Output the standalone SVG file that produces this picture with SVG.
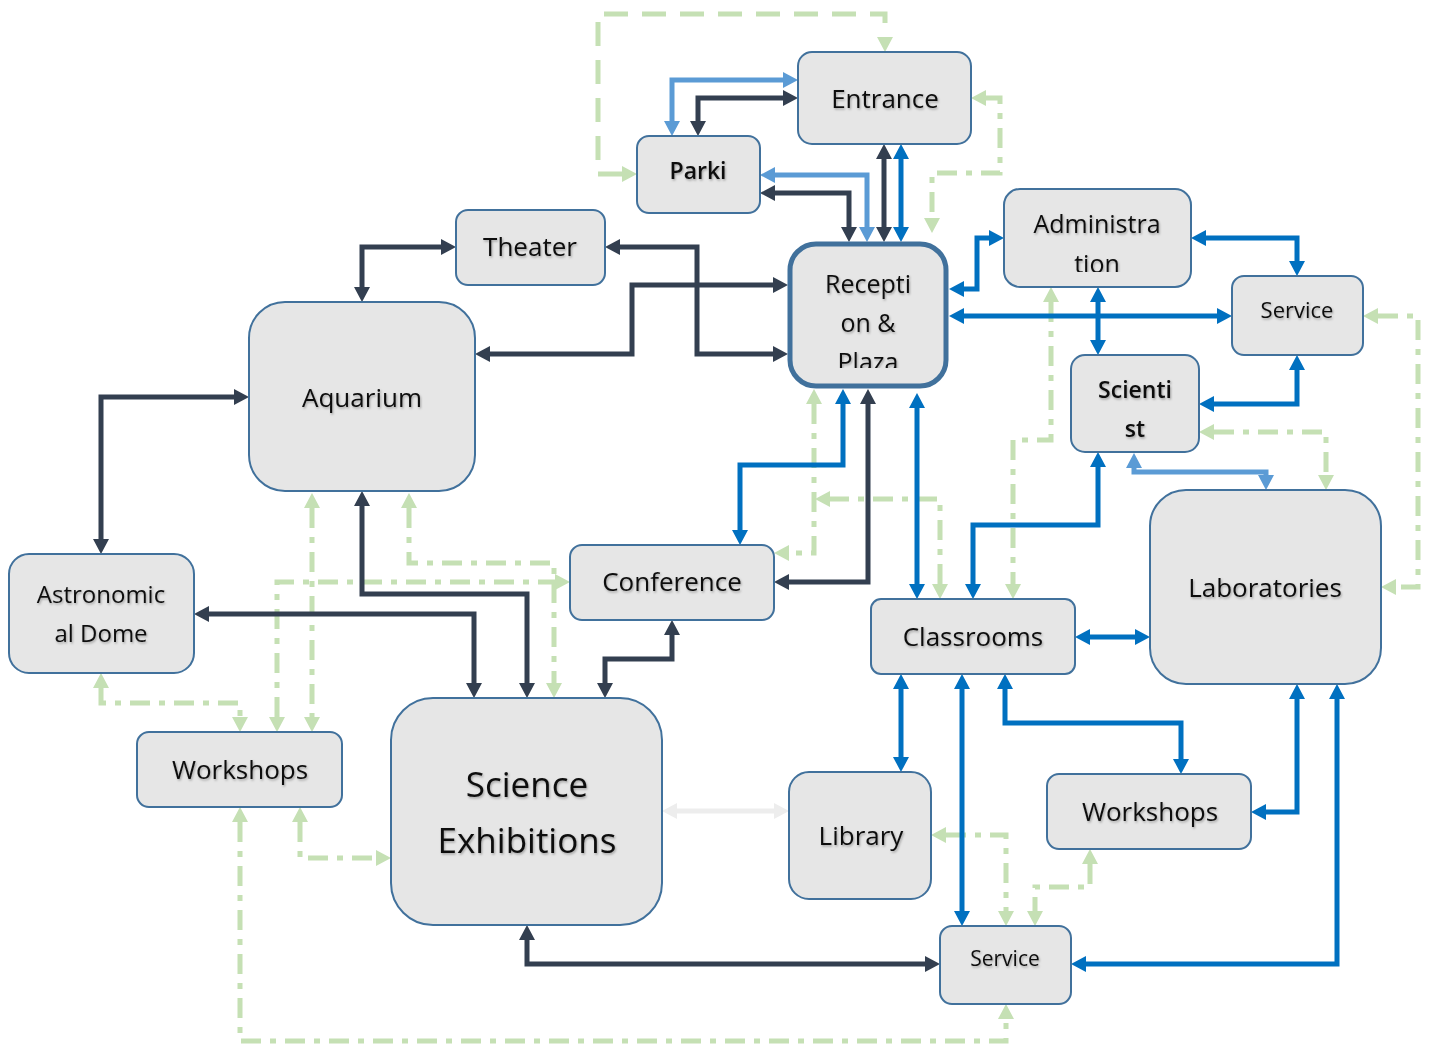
<svg xmlns="http://www.w3.org/2000/svg" width="1432" height="1051" viewBox="0 0 1432 1051">
<style>
.n{fill:#E6E6E6;stroke:#41719C;stroke-width:2}
.nb{fill:#E6E6E6;stroke:#41719C;stroke-width:5}
.t{font-family:"Open Sans","Noto Sans","DejaVu Sans",sans-serif;font-size:26px;fill:#111;text-anchor:middle;filter:url(#ts)}
.b{font-weight:600}
.c{fill:none;stroke-width:5;stroke-linejoin:miter}
.dk{stroke:#333F50;marker-start:url(#mdk);marker-end:url(#mdk)}
.bl{stroke:#0070C0;marker-start:url(#mbl);marker-end:url(#mbl)}
.lb{stroke:#5B9BD5;marker-start:url(#mlb);marker-end:url(#mlb)}
.gy{stroke:#EDEDED;marker-start:url(#mgy);marker-end:url(#mgy)}
.gr{stroke:#C5E0B4;stroke-dasharray:20 9 6 9;marker-start:url(#mgr);marker-end:url(#mgr)}
.gd{stroke:#C5E0B4;stroke-dasharray:24 14;marker-start:url(#mgr);marker-end:url(#mgr)}
</style>
<defs>
<filter id="ts" x="-10%" y="-20%" width="120%" height="150%"><feDropShadow dx="1" dy="1.5" stdDeviation="0.8" flood-color="#000" flood-opacity="0.3"/></filter>
<marker id="mdk" viewBox="0 0 15 16" refX="0" refY="8" markerWidth="15" markerHeight="16" markerUnits="userSpaceOnUse" orient="auto-start-reverse"><path d="M0,0 L15,8 L0,16 z" fill="#333F50"/></marker>
<marker id="mbl" viewBox="0 0 15 16" refX="0" refY="8" markerWidth="15" markerHeight="16" markerUnits="userSpaceOnUse" orient="auto-start-reverse"><path d="M0,0 L15,8 L0,16 z" fill="#0070C0"/></marker>
<marker id="mlb" viewBox="0 0 15 16" refX="0" refY="8" markerWidth="15" markerHeight="16" markerUnits="userSpaceOnUse" orient="auto-start-reverse"><path d="M0,0 L15,8 L0,16 z" fill="#5B9BD5"/></marker>
<marker id="mgy" viewBox="0 0 15 16" refX="0" refY="8" markerWidth="15" markerHeight="16" markerUnits="userSpaceOnUse" orient="auto-start-reverse"><path d="M0,0 L15,8 L0,16 z" fill="#EDEDED"/></marker>
<marker id="mgr" viewBox="0 0 15 16" refX="0" refY="8" markerWidth="15" markerHeight="16" markerUnits="userSpaceOnUse" orient="auto-start-reverse"><path d="M0,0 L15,8 L0,16 z" fill="#C5E0B4"/></marker>
<clipPath id="cr"><rect x="790" y="244" width="156" height="124"/></clipPath>
<clipPath id="ca"><rect x="1004" y="189" width="187" height="83"/></clipPath>
</defs>
<g id="connectors">
<path class="c gd" d="M622,174 H598 V14 H885 V37"/>
<path class="c gr" d="M986,98 H1000 V173 H932 V218"/>
<path class="c gr" d="M312,508 V717"/>
<path class="c gr" d="M409,508 V563 H554 V683"/>
<path class="c gr" d="M277,717 V582 H555"/>
<path class="c gr" d="M101,688 V703 H240 V717"/>
<path class="c gr" d="M240,822 V1041 H1006 V1019"/>
<path class="c gr" d="M300,822 V858 H376"/>
<path class="c gr" d="M1214,432 H1326 V475"/>
<path class="c gr" d="M1051,302 V440 H1013 V584"/>
<path class="c gr" d="M1378,316 H1418 V587 H1396"/>
<path class="c gr" d="M814,404 V553 H789"/>
<path class="c gr" d="M940,584 V499 H830"/>
<path class="c gr" d="M946,835 H1006 V911"/>
<path class="c gr" d="M1090,864 V887 H1035 V911"/>
<path class="c gy" d="M677,811 H774"/>
<path class="c lb" d="M672,121 V80 H783"/>
<path class="c dk" d="M698,121 V98 H783"/>
<path class="c lb" d="M775,175 H867 V227"/>
<path class="c dk" d="M775,193 H849 V227"/>
<path class="c dk" d="M884,159 V227"/>
<path class="c bl" d="M901,159 V227"/>
<path class="c dk" d="M362,287 V247 H441"/>
<path class="c dk" d="M620,247 H697 V354 H773"/>
<path class="c dk" d="M490,354 H632 V285 H773"/>
<path class="c dk" d="M234,397 H101 V539"/>
<path class="c dk" d="M362,506 V594 H527 V683"/>
<path class="c dk" d="M209,614 H474 V683"/>
<path class="c dk" d="M605,683 V659 H672 V635"/>
<path class="c dk" d="M527,940 V964 H925"/>
<path class="c bl" d="M1337,699 V964 H1086"/>
<path class="c bl" d="M964,289 H977 V238 H989"/>
<path class="c bl" d="M964,316 H1217"/>
<path class="c bl" d="M1206,238 H1297 V261"/>
<path class="c bl" d="M1098,302 V340"/>
<path class="c bl" d="M1214,404 H1297 V370"/>
<path class="c lb" d="M1134,468 V472 H1266 V475"/>
<path class="c bl" d="M973,584 V525 H1098 V467"/>
<path class="c bl" d="M843,404 V465 H740 V530"/>
<path class="c dk" d="M868,404 V582 H789"/>
<path class="c bl" d="M917,408 V584"/>
<path class="c bl" d="M1090,637 H1135"/>
<path class="c bl" d="M901,689 V757"/>
<path class="c bl" d="M962,689 V911"/>
<path class="c bl" d="M1005,689 V723 H1181 V759"/>
<path class="c bl" d="M1297,699 V812 H1266"/>
</g>
<g id="entrance"><rect class="n" x="798" y="52" width="173" height="92" rx="14"/><text class="t" x="885" y="108">Entrance</text></g>
<g id="parking"><rect class="n" x="637" y="136" width="123" height="77" rx="12"/><text class="t b" x="698" y="179" style="font-size:23px">Parki</text></g>
<g id="theater"><rect class="n" x="456" y="210" width="149" height="75" rx="12"/><text class="t" x="530" y="256">Theater</text></g>
<g id="reception"><rect class="nb" x="790" y="244" width="156" height="142" rx="26"/><g clip-path="url(#cr)"><text class="t" x="868" y="293" style="font-size:25px">Recepti</text><text class="t" x="868" y="332" style="font-size:25px">on &amp;</text><text class="t" x="868" y="371" style="font-size:25px">Plaza</text></g></g>
<g id="administration"><rect class="n" x="1004" y="189" width="187" height="98" rx="16"/><g clip-path="url(#ca)"><text class="t" x="1097" y="233" style="font-size:25px">Administra</text><text class="t" x="1097" y="273" style="font-size:25px">tion</text></g></g>
<g id="service-top"><rect class="n" x="1232" y="276" width="131" height="79" rx="12"/><text class="t" x="1297" y="318" style="font-size:22px">Service</text></g>
<g id="scientist"><rect class="n" x="1071" y="355" width="128" height="97" rx="14"/><text class="t b" x="1135" y="398" style="font-size:23px">Scienti</text><text class="t b" x="1135" y="437" style="font-size:23px">st</text></g>
<g id="aquarium"><rect class="n" x="249" y="302" width="226" height="189" rx="36"/><text class="t" x="362" y="407">Aquarium</text></g>
<g id="astronomical-dome"><rect class="n" x="9" y="554" width="185" height="119" rx="20"/><text class="t" x="101" y="603" style="font-size:24px">Astronomic</text><text class="t" x="101" y="642" style="font-size:24px">al Dome</text></g>
<g id="conference"><rect class="n" x="570" y="545" width="204" height="75" rx="12"/><text class="t" x="672" y="591">Conference</text></g>
<g id="classrooms"><rect class="n" x="871" y="599" width="204" height="75" rx="10"/><text class="t" x="973" y="646">Classrooms</text></g>
<g id="laboratories"><rect class="n" x="1150" y="490" width="231" height="194" rx="36"/><text class="t" x="1265" y="597">Laboratories</text></g>
<g id="workshops-left"><rect class="n" x="137" y="732" width="205" height="75" rx="12"/><text class="t" x="240" y="779">Workshops</text></g>
<g id="science-exhibitions"><rect class="n" x="391" y="698" width="271" height="227" rx="42"/><text class="t" x="527" y="797" style="font-size:35px">Science</text><text class="t" x="527" y="853" style="font-size:35px">Exhibitions</text></g>
<g id="library"><rect class="n" x="789" y="772" width="142" height="127" rx="20"/><text class="t" x="861" y="845">Library</text></g>
<g id="workshops-right"><rect class="n" x="1047" y="774" width="204" height="75" rx="12"/><text class="t" x="1150" y="821">Workshops</text></g>
<g id="service-bottom"><rect class="n" x="940" y="926" width="131" height="78" rx="12"/><text class="t" x="1005" y="966" style="font-size:21px">Service</text></g>
</svg>
